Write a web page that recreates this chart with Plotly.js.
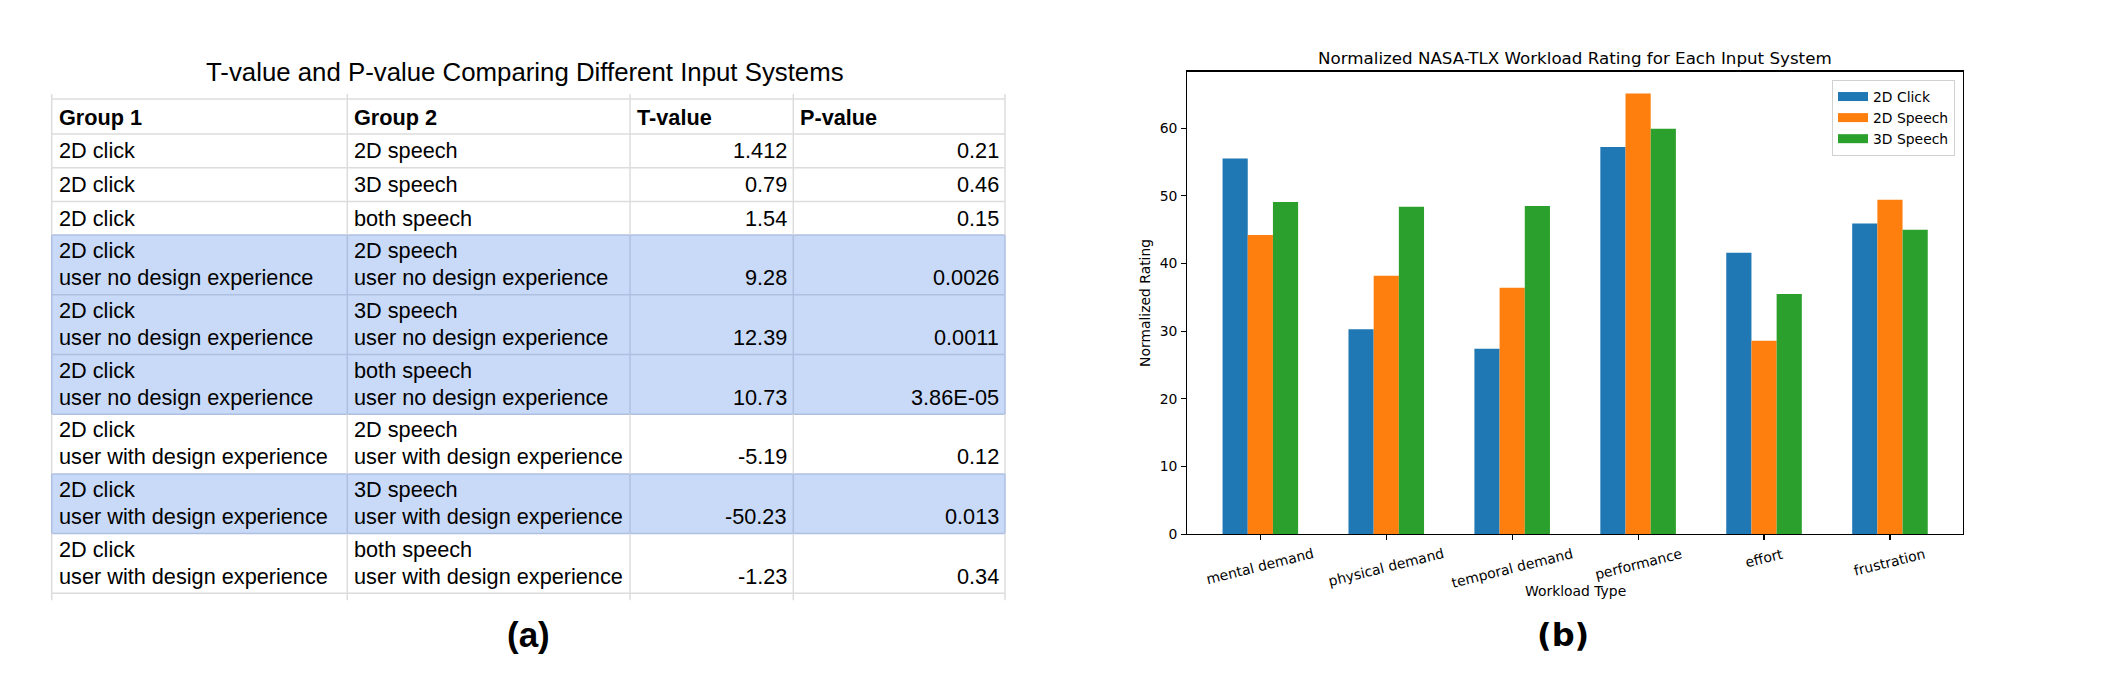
<!DOCTYPE html>
<html><head><meta charset="utf-8">
<script src="https://cdn.plot.ly/plotly-3.0.1.min.js"></script>
<style>html,body{margin:0;padding:0;background:#fff;}</style>
</head><body>
<div id="chart" style="width:2106px;height:674px;"></div>
<script>
// ---------- table (a) data ----------
const tableTitle = 'T-value and P-value Comparing Different Input Systems';
const tableHeaders = ['Group 1', 'Group 2', 'T-value', 'P-value'];
const group1 = ['2D click','2D click','2D click','2D click','2D click','2D click','2D click','2D click','2D click'];
const group2 = ['2D speech','3D speech','both speech','2D speech','3D speech','both speech','2D speech','3D speech','both speech'];
const userGroup = ['', '', '',
  'user no design experience','user no design experience','user no design experience',
  'user with design experience','user with design experience','user with design experience'];
const tValues = ['1.412','0.79','1.54','9.28','12.39','10.73','-5.19','-50.23','-1.23'];
const pValues = ['0.21','0.46','0.15','0.0026','0.0011','3.86E-05','0.12','0.013','0.34'];
const highlighted = [false,false,false,true,true,true,false,true,false];

// ---------- chart (b) data ----------
const chartTitle = 'Normalized NASA-TLX Workload Rating for Each Input System';
const workloadTypes = ['mental demand','physical demand','temporal demand','performance','effort','frustration'];
const seriesNames = ['2D Click','2D Speech','3D Speech'];
const click2D  = [55.5, 30.3, 27.4, 57.2, 41.6, 45.9];
const speech2D = [44.2, 38.2, 36.4, 65.1, 28.6, 49.4];
const speech3D = [49.1, 48.4, 48.5, 59.9, 35.5, 45.0];
const yTicks = [0, 10, 20, 30, 40, 50, 60];

// ---------- layout constants (pixels) ----------
const W = 2106, H = 674;
const px = v => v / W, py = v => 1 - v / H;
const TF = 'Liberation Sans, Arial, sans-serif';
const MF = 'DejaVu Sans, sans-serif';
const TFS = 21.7;
const colEdges = [51.7, 347.3, 630, 793.3, 1005];
const colAlign = ['left', 'left', 'right', 'right'];
const tableTop = 99, headerH = 35, singleH = 33.7, extraLineH = 26, lineStep = 27;
const gridGrey = '#dcdcdc', gridBlue = '#aebfe0', blueFill = '#c9daf8';

// ---------- table geometry from the data ----------
const rowLines = userGroup.map(u => u ? 2 : 1);
const rowBottoms = [];
let yCur = tableTop + headerH;
rowLines.forEach(n => { yCur += singleH + (n - 1) * extraLineH; rowBottoms.push(yCur); });
const rowTops = [tableTop + headerH].concat(rowBottoms.slice(0, -1));
const tableBottom = rowBottoms[rowBottoms.length - 1];

const shapes = [];
const annotations = [];
const x0 = colEdges[0], x1 = colEdges[colEdges.length - 1];

// fills
highlighted.forEach((h, i) => {
  if (h) shapes.push({type: 'rect', xref: 'paper', yref: 'paper',
    x0: px(x0), x1: px(x1), y0: py(rowTops[i]), y1: py(rowBottoms[i]),
    fillcolor: blueFill, line: {width: 0}, layer: 'below'});
});
// horizontal grid lines
const hLines = [tableTop, tableTop + headerH].concat(rowBottoms);
hLines.forEach((y, j) => {
  const above = j >= 2 ? highlighted[j - 2] : false;
  const below = j >= 1 && j - 1 < highlighted.length ? highlighted[j - 1] : false;
  shapes.push({type: 'line', xref: 'paper', yref: 'paper', x0: px(x0), x1: px(x1), y0: py(y), y1: py(y),
    line: {color: (above || below) ? gridBlue : gridGrey, width: 1.5}});
});
// vertical grid lines per row
const segTops = [tableTop - 5, tableTop].concat(rowTops);
const segBots = [tableTop, tableTop + headerH].concat(rowBottoms);
segTops.push(tableBottom); segBots.push(tableBottom + 7);
const segBlue = [false, false].concat(highlighted).concat([false]);
colEdges.forEach(cx => {
  segTops.forEach((t, k) => shapes.push({type: 'line', xref: 'paper', yref: 'paper',
    x0: px(cx), x1: px(cx), y0: py(t), y1: py(segBots[k]),
    line: {color: segBlue[k] ? gridBlue : gridGrey, width: 1.5}}));
});

function cellText(text, col, yBase, bold) {
  const left = colAlign[col] === 'left';
  annotations.push({text: text, xref: 'paper', yref: 'paper',
    x: px(left ? colEdges[col] + 5 : colEdges[col + 1] - 4), y: py(yBase),
    xanchor: left ? 'left' : 'right', yanchor: 'middle', showarrow: false,
    font: {family: TF, size: TFS, color: '#000', weight: bold ? 'bold' : 'normal'}});
}
tableHeaders.forEach((h, c) => {
  annotations.push({text: h, xref: 'paper', yref: 'paper', x: px(colEdges[c] + 5),
    y: py(tableTop + headerH - 17), xanchor: 'left', yanchor: 'middle', showarrow: false,
    font: {family: TF, size: TFS, color: '#000', weight: 'bold'}});
});
rowLines.forEach((n, i) => {
  const cols = [[group1[i], userGroup[i]], [group2[i], userGroup[i]], [tValues[i]], [pValues[i]]];
  cols.forEach((lines, c) => {
    const ls = lines.filter(s => s);
    ls.forEach((s, k) => cellText(s, c, rowBottoms[i] - 17 - (ls.length - 1 - k) * lineStep, false));
  });
});

annotations.push(
  {text: tableTitle, x: px(525), y: py(72), xref: 'paper', yref: 'paper', showarrow: false,
   font: {family: TF, size: 25.8, color: '#000'}, xanchor: 'center', yanchor: 'middle'},
  {text: '(a)', x: px(528), y: py(634), xref: 'paper', yref: 'paper', showarrow: false,
   font: {family: TF, size: 35, color: '#000', weight: 'bold'}, xanchor: 'center', yanchor: 'middle'}
);

// ---------- bar chart ----------
const axL = 1187.3, axR = 1963, axT = 71.5, axB = 534.3;
const axC = (axL + axR) / 2;
const colors = ['#1f77b4', '#ff7f0e', '#2ca02c'];
const series = [click2D, speech2D, speech3D];
const bars = series.map((vals, k) => ({
  type: 'bar', x: workloadTypes, y: vals, name: seriesNames[k],
  marker: {color: colors[k], line: {width: 0}}, showlegend: false,
  xaxis: 'x', yaxis: 'y', hoverinfo: 'skip'
}));
// legend handles drawn as wide flat patches, like the reference legend
const legendKeys = seriesNames.map((name, k) => ({
  type: 'scatter', mode: 'lines', x: [null], y: [null], name: name,
  line: {color: colors[k], width: 9}, xaxis: 'x', yaxis: 'y', hoverinfo: 'skip'
}));

annotations.push(
  {text: chartTitle, x: px(axC), y: py(58), xref: 'paper', yref: 'paper', showarrow: false,
   font: {family: MF, size: 16.7, color: '#000'}, xanchor: 'center', yanchor: 'middle'},
  {text: 'Normalized Rating', x: px(1145), y: py((axT + axB) / 2), xref: 'paper', yref: 'paper', showarrow: false,
   textangle: -90, font: {family: MF, size: 13.9, color: '#000'}, xanchor: 'center', yanchor: 'middle'},
  {text: 'Workload Type', x: px(axC), y: py(591), xref: 'paper', yref: 'paper', showarrow: false,
   font: {family: MF, size: 13.9, color: '#000'}, xanchor: 'center', yanchor: 'middle'},
  {text: '(b)', x: px(1563), y: py(635), xref: 'paper', yref: 'paper', showarrow: false,
   font: {family: MF, size: 32, color: '#000', weight: 'bold'}, xanchor: 'center', yanchor: 'middle'}
);
workloadTypes.forEach(w => annotations.push({
  text: w, x: w, xref: 'x', y: py(543), yref: 'paper', showarrow: false, textangle: -14,
  font: {family: MF, size: 13.9, color: '#000'}, xanchor: 'center', yanchor: 'top'
}));

const layout = {
  width: W, height: H,
  margin: {l: 0, r: 0, t: 0, b: 0},
  paper_bgcolor: '#ffffff', plot_bgcolor: '#ffffff',
  barmode: 'group', bargap: 0.4, bargroupgap: 0,
  showlegend: true,
  legend: {x: px(1955), y: py(80), xanchor: 'right', yanchor: 'top', tracegroupgap: 0,
    bordercolor: '#d0d0d0', borderwidth: 1, bgcolor: 'rgba(255,255,255,0.8)',
    itemwidth: 30, font: {family: MF, size: 13.9, color: '#000'}},
  xaxis: {domain: [px(axL), px(axR)], range: [-0.58, 5.58], type: 'category',
    showticklabels: false, ticks: 'outside', ticklen: 5, tickwidth: 1.1, tickcolor: '#000',
    showline: true, linecolor: '#000', linewidth: 1.1, mirror: true, showgrid: false,
    zeroline: false, anchor: 'y'},
  yaxis: {domain: [py(axB), py(axT)], range: [0, 68.36], tickvals: yTicks,
    ticks: 'outside', ticklen: 5, tickwidth: 1.1, tickcolor: '#000', ticklabelstandoff: 1,
    tickfont: {family: MF, size: 13.9, color: '#000'},
    showline: true, linecolor: '#000', linewidth: 1.1, mirror: true, showgrid: false,
    zeroline: false, anchor: 'x'},
  shapes: shapes,
  annotations: annotations
};

Plotly.newPlot('chart', bars.concat(legendKeys), layout, {displayModeBar: false, staticPlot: true});
</script>
</body></html>
